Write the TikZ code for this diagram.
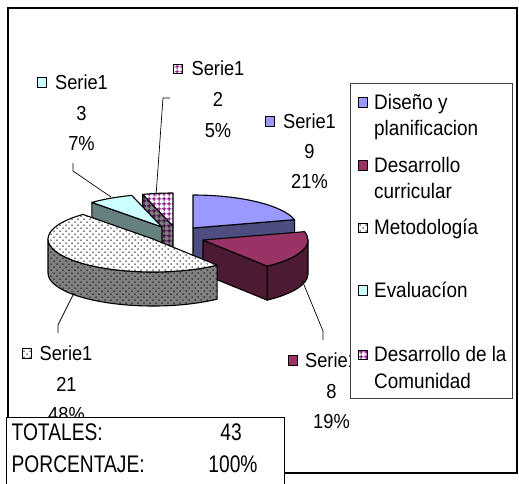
\documentclass[tikz,border=0pt]{standalone}
\usepackage{fontspec}
\setmainfont{Liberation Sans}
\usetikzlibrary{calc,patterns}
\pgfdeclarepatternformonly{pdots}{\pgfqpoint{-1pt}{-1pt}}{\pgfqpoint{5pt}{5pt}}{\pgfqpoint{6pt}{6pt}}{%
  \pgfpathcircle{\pgfqpoint{0pt}{0pt}}{0.75pt}%
  \pgfpathcircle{\pgfqpoint{3pt}{3pt}}{0.75pt}%
  \pgfusepath{fill}}
\pgfdeclarepatternformonly{pgridx}{\pgfqpoint{0pt}{0pt}}{\pgfqpoint{4.6pt}{4.6pt}}{\pgfqpoint{4.6pt}{4.6pt}}{%
  \pgfsetlinewidth{0.9pt}%
  \pgfpathmoveto{\pgfqpoint{0pt}{2.3pt}}\pgfpathlineto{\pgfqpoint{4.6pt}{2.3pt}}%
  \pgfpathmoveto{\pgfqpoint{2.3pt}{0pt}}\pgfpathlineto{\pgfqpoint{2.3pt}{4.6pt}}%
  \pgfusepath{stroke}}
\definecolor{disT}{HTML}{9999FF}
\definecolor{disS}{HTML}{4D4D80}
\definecolor{curT}{HTML}{993366}
\definecolor{curS}{HTML}{4D1A33}
\definecolor{evaT}{HTML}{CCFFFF}
\definecolor{evaS}{HTML}{668080}
\definecolor{comG}{HTML}{800080}
\definecolor{comGd}{HTML}{400040}
\definecolor{metS}{HTML}{808080}
\newcommand\sltop[4]{\path[#4] (#1) -- ($(#1)+(#2:105pt and 33pt)$) arc[start angle=#2, end angle=#3, x radius=105pt, y radius=33pt] -- cycle;}
\newcommand\slrad[3]{\path[#3] (#1) -- ($(#1)+(#2:105pt and 33pt)$) -- ++(0pt,-34pt) -- ($(#1)+(0pt,-34pt)$) -- cycle;}
\newcommand\slarc[4]{\path[#4] ($(#1)+(#2:105pt and 33pt)$) arc[start angle=#2, end angle=#3, x radius=105pt, y radius=33pt] -- ++(0pt,-34pt) arc[start angle=#3, end angle=#2, x radius=105pt, y radius=33pt] -- cycle;}
\begin{document}
\begin{tikzpicture}[x=1pt,y=-1pt,
  edge/.style={draw=black, line width=1.1pt, line join=round},
  lbl/.style={font=\fontsize{20.3}{24}\selectfont, xscale=0.9, inner sep=0pt, anchor=base},
  lg/.style={font=\fontsize{21}{24}\selectfont, xscale=0.9, inner sep=0pt, anchor=base west},
  tb/.style={font=\fontsize{24}{26}\selectfont, xscale=0.8, inner sep=0pt},
  mk/.style={draw=black, line width=0.9pt, minimum size=9.5pt, inner sep=0pt},
  lead/.style={draw=black, line width=0.7pt},
  dotsT/.style={preaction={fill=white}, pattern=pdots, pattern color=black},
  dotsS/.style={preaction={fill=metS}, pattern=pdots, pattern color=black},
  gridT/.style={preaction={fill=white}, pattern=pgridx, pattern color=comG},
  gridS/.style={preaction={fill=metS}, pattern=pgridx, pattern color=comGd}]
\useasboundingbox (0,0) rectangle (519,483);
\fill[white] (0,0) rectangle (519,483);
% outer frame
\draw[black, line width=1.2pt] (8,8) rectangle (517,473);

% apexes
\coordinate (aDis) at (193,228);
\coordinate (aCur) at (203,240);
\coordinate (aMet) at (153,239);
\coordinate (aEva) at (162,227);
\coordinate (aCom) at (173,226);

% Comunidad
\slrad{aCom}{106.74}{edge, gridS}
\sltop{aCom}{106.74}{90}{edge, gridT}
% Evaluacion
\slrad{aEva}{131.86}{edge, fill=evaS}
\sltop{aEva}{131.86}{106.74}{edge, fill=evaT}
% Diseno
\slrad{aDis}{14.65}{edge, fill=disS}
\sltop{aDis}{90}{14.65}{edge, fill=disT}
% Desarrollo curricular
\slarc{aCur}{0}{-52.33}{edge, fill=curS}
\slrad{aCur}{-52.33}{edge, fill=curS}
\sltop{aCur}{14.65}{-52.33}{edge, fill=curT}
% Metodologia
\slarc{aMet}{-180}{-52.33}{edge, dotsS}
\sltop{aMet}{-52.33}{-228.14}{edge, dotsT}

% leader lines
\coordinate (eA) at (73,163); \coordinate (eB) at (73,171); \coordinate (eC) at (111,197);
\draw[lead] (eA) -- (eB) -- (eC);
\coordinate (cA) at (170,98); \coordinate (cB) at (163,98); \coordinate (cC) at (156,196);
\draw[lead] (cA) -- (cB) -- (cC);
\coordinate (rA) at (302,280); \coordinate (rB) at (323,331); \coordinate (rC) at (323,340);
\draw[lead] (rA) -- (rB) -- (rC);
\coordinate (mA) at (74,293); \coordinate (mB) at (58,325); \coordinate (mC) at (58,333);
\draw[lead] (mA) -- (mB) -- (mC);

% data labels
\node[lbl] (eva1) at (81.5,89) {Serie1};
\node[lbl] (eva2) at (81.5,120) {3};
\node[lbl] (eva3) at (81.5,150) {7\%};
\node[mk, fill=evaT] (evaM) at (42,82.5) {};

\node[lbl] (com1) at (218,75) {Serie1};
\node[lbl] (com2) at (218,106) {2};
\node[lbl] (com3) at (218,137) {5\%};
\node[mk, gridT] (comM) at (178,69) {};

\node[lbl] (dis1) at (309.5,128) {Serie1};
\node[lbl] (dis2) at (309.5,158) {9};
\node[lbl] (dis3) at (309.5,188) {21\%};
\node[mk, fill=disT] (disM) at (270,121.5) {};

\node[lbl] (cur1) at (331.5,367) {Serie1};
\node[lbl] (cur2) at (331.5,398) {8};
\node[lbl] (cur3) at (331.5,428) {19\%};
\node[mk, fill=curT] (curM) at (293,360.5) {};

\node[lbl] (met1) at (66,360) {Serie1};
\node[lbl] (met2) at (66.5,391) {21};
\node[lbl] (met3) at (66.5,421) {48\%};
\node[mk, dotsT] (metM) at (27,353.5) {};

% legend
\draw[fill=white, draw=black!75, line width=1pt] (350,83) rectangle (512,398);
\node[mk, fill=disT] (lgM1) at (363,102.5) {};
\node[lg] (lg1a) at (374,109) {Diseño y};
\node[lg] (lg1b) at (374,135.5) {planificacion};
\node[mk, fill=curT] (lgM2) at (363,165.5) {};
\node[lg] (lg2a) at (374,172) {Desarrollo};
\node[lg] (lg2b) at (374,198.5) {curricular};
\node[mk, dotsT] (lgM3) at (363,228) {};
\node[lg] (lg3) at (374,234.5) {Metodología};
\node[mk, fill=evaT] (lgM4) at (363,290.5) {};
\node[lg] (lg4) at (374,297) {Evaluacíon};
\node[mk, gridT] (lgM5) at (363,355) {};
\node[lg] (lg5a) at (374,361.5) {Desarrollo de la};
\node[lg] (lg5b) at (374,388) {Comunidad};

% totals table
\draw[fill=white, draw=black, line width=1pt] (6,417) rectangle (284,500);
\node[tb, anchor=base west] (t1) at (11.5,440) {TOTALES:};
\node[tb, anchor=base] (t2) at (231,440) {43};
\node[tb, anchor=base west] (t3) at (11.5,472) {PORCENTAJE:};
\node[tb, anchor=base] (t4) at (233,472) {100\%};
\end{tikzpicture}
\end{document}
